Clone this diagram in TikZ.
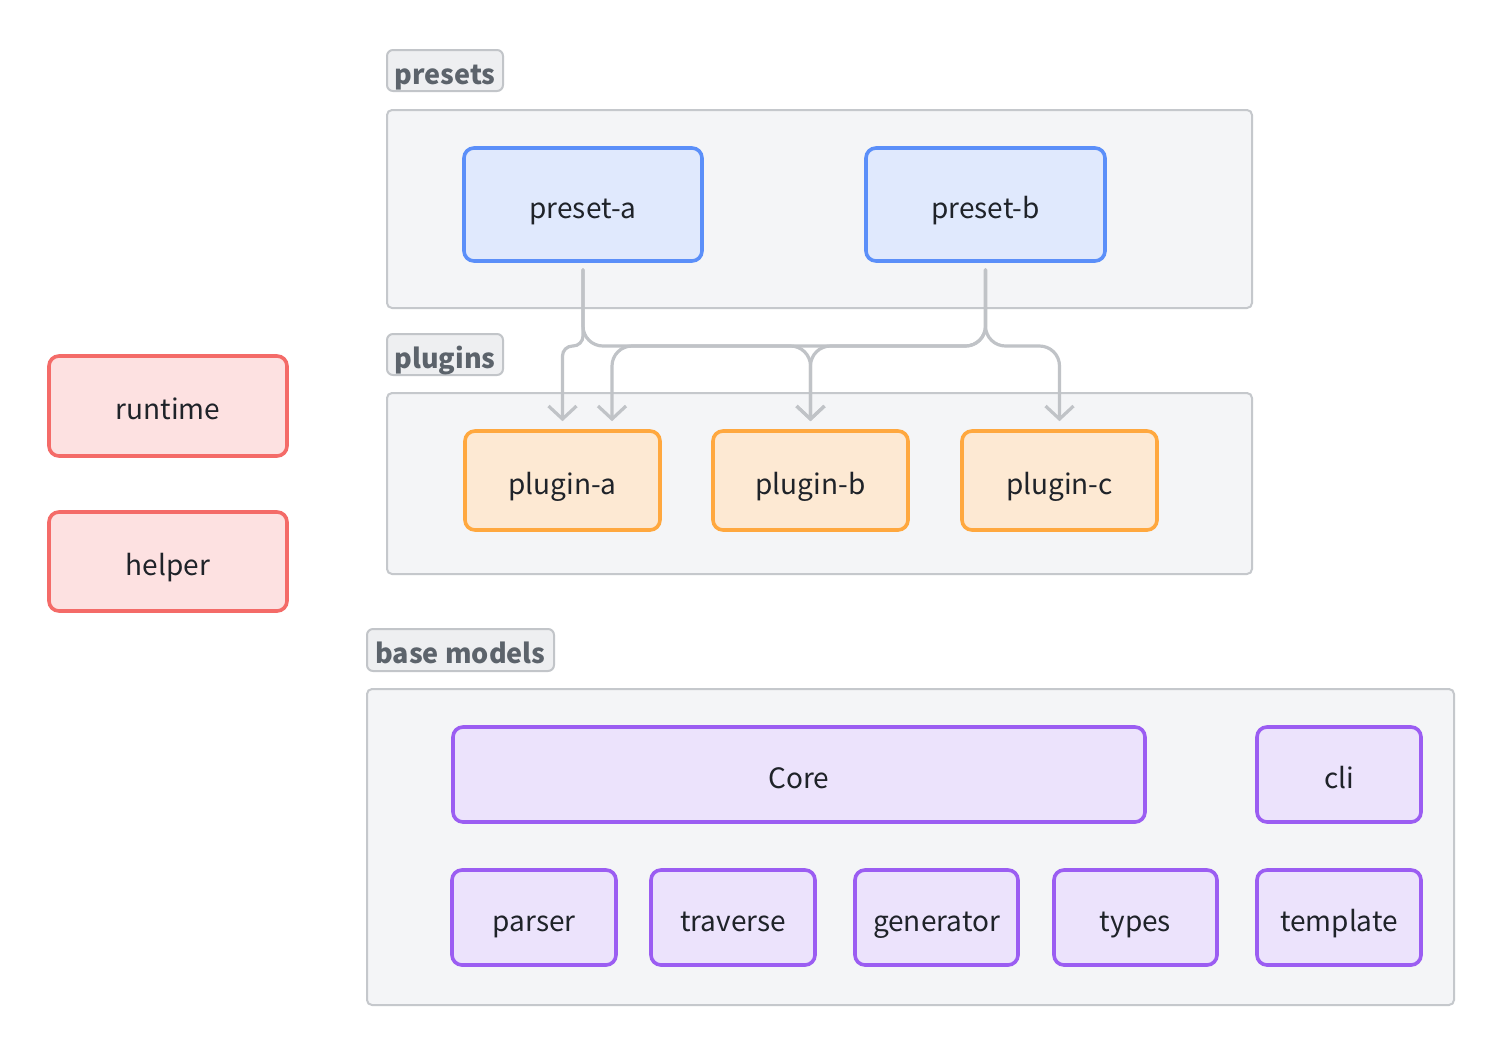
\documentclass[tikz,border=0pt]{standalone}
\usepackage{fontspec}
\setmainfont{Noto Sans CJK SC}
\usetikzlibrary{arrows.meta}
\definecolor{contfill}{HTML}{F4F5F7}
\definecolor{contdraw}{HTML}{C5C8CC}
\definecolor{labfill}{HTML}{EEEFF1}
\definecolor{labdraw}{HTML}{C2C5C9}
\definecolor{labtext}{HTML}{5C636B}
\definecolor{bluefill}{HTML}{E0E9FD}
\definecolor{bluedraw}{HTML}{5B8FF9}
\definecolor{orfill}{HTML}{FDE9D3}
\definecolor{ordraw}{HTML}{FFA83F}
\definecolor{redfill}{HTML}{FDE1E1}
\definecolor{reddraw}{HTML}{F46B68}
\definecolor{purfill}{HTML}{ECE3FC}
\definecolor{purdraw}{HTML}{9B5DF2}
\definecolor{conncol}{HTML}{C0C3C7}
\definecolor{txt}{HTML}{1F2329}
\tikzset{
  container/.style={draw=contdraw, fill=contfill, line width=1pt, rounded corners=2.5pt, inner sep=0pt},
  grplabel/.style={draw=labdraw, fill=labfill, line width=1pt, rounded corners=3pt, inner sep=0pt,
    text=labtext, font=\fontsize{13.5}{15}\selectfont\bfseries, text height=16pt, text depth=2.5pt},
  basebox/.style={line width=1.8pt, rounded corners=5pt, inner sep=0pt, text=txt,
    font=\fontsize{14}{16}\selectfont, text height=16pt, text depth=2.5pt},
  bluebox/.style={basebox, draw=bluedraw, fill=bluefill},
  orbox/.style={basebox, draw=ordraw, fill=orfill},
  redbox/.style={basebox, draw=reddraw, fill=redfill},
  purbox/.style={basebox, draw=purdraw, fill=purfill},
  conn/.style={draw=conncol, line width=1.6pt, line cap=round, line join=round,
    -{Straight Barb[length=6.5pt, width=14pt, line width=1.6pt]}},
}
% box from pixel corners: style, name, x1, y1, x2, y2, text
\newcommand\pbox[7]{%
  \node[#1, minimum width={(#5-#3)*0.5pt}, minimum height={(#6-#4)*0.5pt}]
    (#2) at ({(#3+#5)/2},{(#4+#6)/2}) {#7};}
\begin{document}
\begin{tikzpicture}[x=0.5pt, y=-0.5pt]
\path[use as bounding box, fill=white] (0,0) rectangle (1504,1056);

% containers
\pbox{container}{cpre}{387}{110}{1252}{308}{}
\pbox{container}{cplu}{387}{393}{1252}{574}{}
\pbox{container}{cbase}{367}{689}{1454}{1005}{}

% labels
\pbox{grplabel}{lpre}{387}{50}{503}{91}{presets}
\pbox{grplabel}{lplu}{387}{334}{503}{375}{plugins}
\pbox{grplabel}{lbase}{367}{629}{554}{671}{base models}

% presets
\pbox{bluebox}{pa}{464}{148}{702}{261}{preset-a}
\pbox{bluebox}{pb}{866}{148}{1105}{261}{preset-b}

% plugins
\pbox{orbox}{pla}{465}{431}{660}{530}{plugin-a}
\pbox{orbox}{plb}{713}{431}{908}{530}{plugin-b}
\pbox{orbox}{plc}{962}{431}{1157}{530}{plugin-c}

% left
\pbox{redbox}{rt}{49}{356}{287}{456}{runtime}
\pbox{redbox}{hp}{49}{512}{287}{611}{helper}

% base models
\pbox{purbox}{core}{453}{727}{1145}{822}{Core}
\pbox{purbox}{cli}{1257}{727}{1421}{822}{cli}
\pbox{purbox}{parser}{452}{870}{616}{965}{parser}
\pbox{purbox}{trav}{651}{870}{815}{965}{traverse}
\pbox{purbox}{gen}{855}{870}{1018}{965}{generator}
\pbox{purbox}{types}{1054}{870}{1217}{965}{types}
\pbox{purbox}{tmpl}{1257}{870}{1421}{965}{template}

% connectors
\coordinate (bus) at (0,346);
\coordinate (paS) at ([yshift=-3.5pt]pa.south);
\coordinate (pbS) at ([yshift=-3.5pt]pb.south);
\coordinate (plaT) at ([yshift=4pt]pla.north);
\coordinate (plaT2) at ([xshift=24.75pt,yshift=4pt]pla.north);
\coordinate (plbT) at ([yshift=4pt]plb.north);
\coordinate (plcT) at ([yshift=4pt]plc.north);

\draw[conn, rounded corners=5pt] (paS) -- (paS |- bus) -- (plaT |- bus) -- (plaT);
\draw[conn, rounded corners=10pt] (paS) -- (paS |- bus) -- (plbT |- bus) -- (plbT);
\draw[conn, rounded corners=10pt] (pbS) -- (pbS |- bus) -- (plaT2 |- bus) -- (plaT2);
\draw[conn, rounded corners=10pt] (pbS) -- (pbS |- bus) -- (plbT |- bus) -- (plbT);
\draw[conn, rounded corners=10pt] (pbS) -- (pbS |- bus) -- (plcT |- bus) -- (plcT);
\end{tikzpicture}
\end{document}
